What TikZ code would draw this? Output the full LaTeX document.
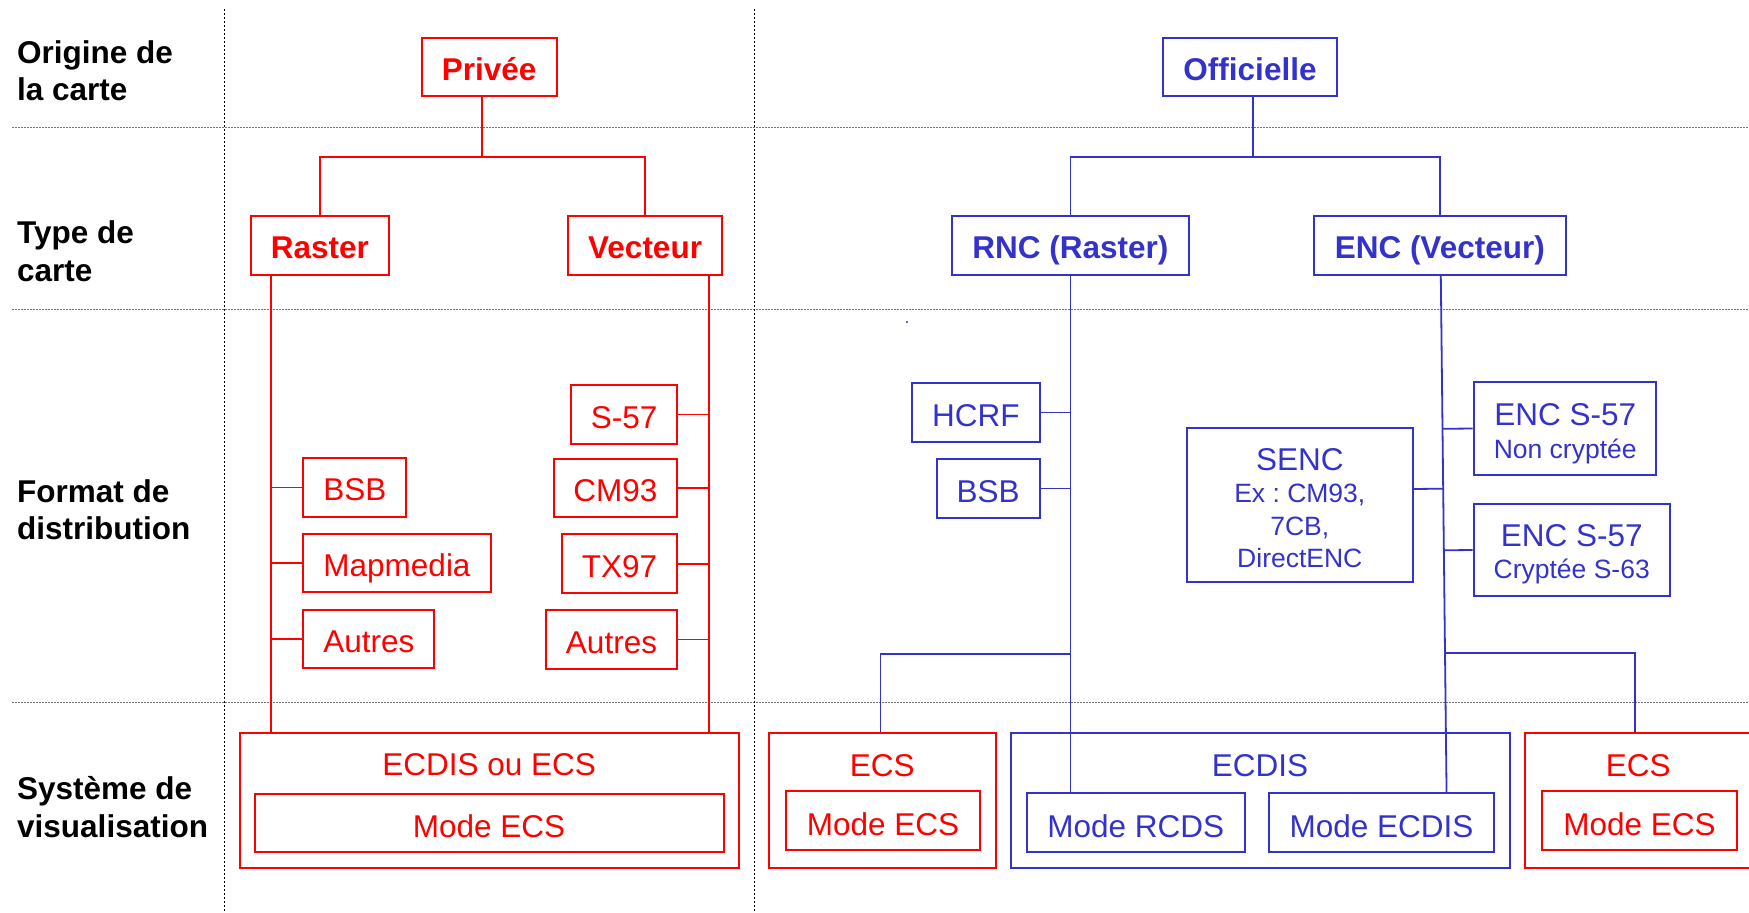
\documentclass[tikz,border=0pt]{standalone}
\usepackage{fontspec}
\setmainfont{Liberation Sans}
\usetikzlibrary{calc}
\definecolor{cred}{RGB}{255,0,0}
\definecolor{cblue}{RGB}{51,51,204}
\newcommand\fbig{\fontsize{31.5}{37.5}\selectfont}
\newcommand\fsmallA{\fontsize{26.5}{32.5}\selectfont}
\newcommand\fsmallB{\fontsize{26.5}{33.4}\selectfont}
\newcommand\fsmallC{\fontsize{26.5}{32}\selectfont}
\frenchspacing
\begin{document}
\begin{tikzpicture}[x=1pt,y=-1pt,
  box/.style={draw, line width=2pt, inner sep=0pt, text height=27pt, text depth=0pt, font=\fbig},
  rbox/.style={box, draw=cred, text=cred},
  bbox/.style={box, draw=cblue, text=cblue},
  hdr/.style={font=\fbig\bfseries},
  rcon/.style={draw=cred, line width=1.8pt},
  bcon/.style={draw=cblue, line width=1.8pt},
  lab/.style={anchor=base west, inner sep=0pt, font=\fbig\bfseries, text=black},
  ttl/.style={anchor=base, inner sep=0pt, font=\fbig},
  mtxt/.style={anchor=base, inner sep=0pt, text=cblue},
  hgrid/.style={draw=black!55, line width=1pt, dash pattern=on 2pt off 1pt},
  vgrid/.style={draw=black, line width=1.2pt, dash pattern=on 1.5pt off 2.5pt},
]
\useasboundingbox (0,0) rectangle (1749,913);
\fill[white] (0,0) rectangle (1749,913);

% grid
\draw[hgrid] (12,127.7) -- (1749,127.7);
\draw[hgrid] (12,309.3) -- (1749,309.3);
\draw[hgrid] (12,702.7) -- (1749,702.7);
\draw[vgrid] (224.4,9) -- (224.4,913);
\draw[vgrid] (754.7,9) -- (754.7,913);

% row labels
\node[lab] (lo1) at (17,63.8) {Origine de};
\node[lab] (lo2) at (17,100.5) {la carte};
\node[lab] (lt1) at (17,243.5) {Type de};
\node[lab] (lt2) at (17,281) {carte};
\node[lab] (lf1) at (17,502.2) {Format de};
\node[lab] (lf2) at (17,539.8) {distribution};
\node[lab] (ls1) at (17,799.5) {Système de};
\node[lab] (ls2) at (17,837.2) {visualisation};

% top level
\node[rbox, hdr, minimum width=134.8, minimum height=58.6] (privee) at (489.1,67) {Privée};
\node[bbox, hdr, minimum width=173.5, minimum height=58.6] (officielle) at (1250,67) {Officielle};
\node[rbox, hdr, minimum width=138.6, minimum height=58.7] (raster) at (319.9,245.3) {Raster};
\node[rbox, hdr, minimum width=154.2, minimum height=58.7] (vecteur) at (645.1,245.3) {Vecteur};
\node[bbox, hdr, minimum width=237.3, minimum height=58.7] (rnc) at (1070.5,245.3) {RNC (Raster)};
\node[bbox, hdr, minimum width=252.3, minimum height=58.7] (enc) at (1439.8,245.3) {ENC (Vecteur)};

% red format boxes
\node[rbox, minimum width=106.2, minimum height=59] (s57) at (624.1,414.5) {S-57};
\node[rbox, minimum width=102.8, minimum height=58.7] (bsbr) at (354.8,487.4) {BSB};
\node[rbox, minimum width=123.6, minimum height=58.3] (cm93) at (615.4,488.2) {CM93};
\node[rbox, minimum width=188, minimum height=58.6] (mapmedia) at (397,563) {Mapmedia};
\node[rbox, minimum width=115.4, minimum height=59] (tx97) at (619.5,563.8) {TX97};
\node[rbox, minimum width=130.9, minimum height=58.3] (autresL) at (368.9,638.9) {Autres};
\node[rbox, minimum width=131.4, minimum height=58.4] (autresR) at (611.5,639.5) {Autres};

% blue format boxes
\node[bbox, minimum width=127.5, minimum height=58.7] (hcrf) at (975.8,412.5) {HCRF};
\node[bbox, minimum width=102.8, minimum height=58.6] (bsbb) at (988.1,488.5) {BSB};
\node[bbox, minimum width=226.5, minimum height=154.6] (senc) at (1299.8,505) {};
\node[mtxt, font=\fsmallA] (tsenc) at (1299.8,470)
  {\begin{tabular}[t]{@{}c@{}}{\fbig SENC}\\Ex : CM93,\\7CB,\\DirectENC\end{tabular}};
\node[bbox, minimum width=182.9, minimum height=92.4] (encnc) at (1565,428.5) {};
\node[mtxt, font=\fsmallB] (tencnc) at (1565.2,425)
  {\begin{tabular}[t]{@{}c@{}}{\fbig ENC S-57}\\Non cryptée\end{tabular}};
\node[bbox, minimum width=196.2, minimum height=92] (encc) at (1571.7,550) {};
\node[mtxt, font=\fsmallC] (tencc) at (1571.7,546.4)
  {\begin{tabular}[t]{@{}c@{}}{\fbig ENC S-57}\\Cryptée S-63\end{tabular}};

% bottom systems
\node[rbox, minimum width=499.2, minimum height=135] (ecdisecs) at (489.1,800.2) {};
\node[ttl, text=cred] (tecdisecs) at ($(ecdisecs.north)+(0,43.6)$) {ECDIS ou ECS};
\node[rbox, minimum width=469.2, minimum height=58.3, text height=29pt] (mecsA) at (489.1,823.2) {Mode ECS};

\node[rbox, minimum width=227.2, minimum height=135] (ecsL) at (882.4,800.2) {};
\node[ttl, text=cred] (tecsL) at (882.2,776.3) {ECS};
\node[rbox, minimum width=193.1, minimum height=58.7, text height=29pt] (mecsB) at (883,820.7) {Mode ECS};

\node[bbox, minimum width=498.5, minimum height=135] (ecdis) at (1260.3,800.2) {};
\node[ttl, text=cblue] (tecdis) at (1260,776.3) {ECDIS};
\node[bbox, minimum width=217.6, minimum height=58.4, text height=29pt] (mrcds) at (1135.7,822.5) {Mode RCDS};
\node[bbox, minimum width=225.9, minimum height=58.4, text height=29pt] (mecdis) at (1381.5,822.5) {Mode ECDIS};

\node[rbox, minimum width=232, minimum height=135] (ecsR) at (1640.7,800.2) {};
\node[ttl, text=cred] (tecsR) at (1638.2,776.3) {ECS};
\node[rbox, minimum width=194.4, minimum height=58.7, text height=29pt] (mecsC) at (1639.5,820.7) {Mode ECS};

% red connectors
\coordinate (ptop) at ($(privee.south)+(-7.3,0)$);
\coordinate (pj) at ($(privee.south)+(-7.3,59.4)$);
\draw[rcon] (ptop) -- (pj);
\draw[rcon] (raster.north) |- (pj) -| (vecteur.north);
\coordinate (rsL) at ($(raster.south west)+(21.4,0)$);
\coordinate (rsR) at ($(vecteur.south east)+(-14,0)$);
\draw[rcon] (rsL) -- (rsL |- ecdisecs.north);
\draw[rcon] (rsR) -- (rsR |- ecdisecs.north);
\draw[rcon] (bsbr.west) -- (bsbr.west -| rsL);
\draw[rcon] (mapmedia.west) -- (mapmedia.west -| rsL);
\draw[rcon] (autresL.west) -- (autresL.west -| rsL);
\draw[rcon] (s57.east) -- (s57.east -| rsR);
\draw[rcon] (cm93.east) -- (cm93.east -| rsR);
\draw[rcon] (tx97.east) -- (tx97.east -| rsR);
\draw[rcon] (autresR.east) -- (autresR.east -| rsR);

% blue connectors
\coordinate (otop) at ($(officielle.south)+(2.7,0)$);
\coordinate (oj) at ($(officielle.south)+(2.7,59.4)$);
\draw[bcon] (otop) -- (oj);
\draw[bcon] (rnc.north) |- (oj) -| (enc.north);
\draw[bcon] (rnc.south) -- (rnc.south |- mrcds.north);
\draw[bcon] (hcrf.east) -- (hcrf.east -| rnc.south);
\draw[bcon] (bsbb.east) -- (bsbb.east -| rnc.south);
\coordinate (lj) at ($(rnc.south)+(0,378)$);
\draw[bcon] (lj) -| ($(ecsL.north)+(-1.9,0)$);
\coordinate (et) at ($(enc.south)+(1,0)$);
\coordinate (eb) at ($(mecdis.north west)+(179,0)$);
\draw[bcon] (et) -- (eb);
\coordinate (sencc) at ($(senc.east)+(0,-16)$);
\draw[bcon] (sencc) -- ($(et)!(sencc)!(eb)$);
\draw[bcon] (encnc.west) -- ($(et)!(encnc.west)!(eb)$);
\draw[bcon] (encc.west) -- ($(et)!(encc.west)!(eb)$);
\coordinate (rj) at ($(et)!0.7307!(eb)$);
\draw[bcon] (rj) -| ($(ecsR.north west)+(111,0)$);

\fill[cblue] (907,322) circle (1.2);
\end{tikzpicture}
\end{document}
